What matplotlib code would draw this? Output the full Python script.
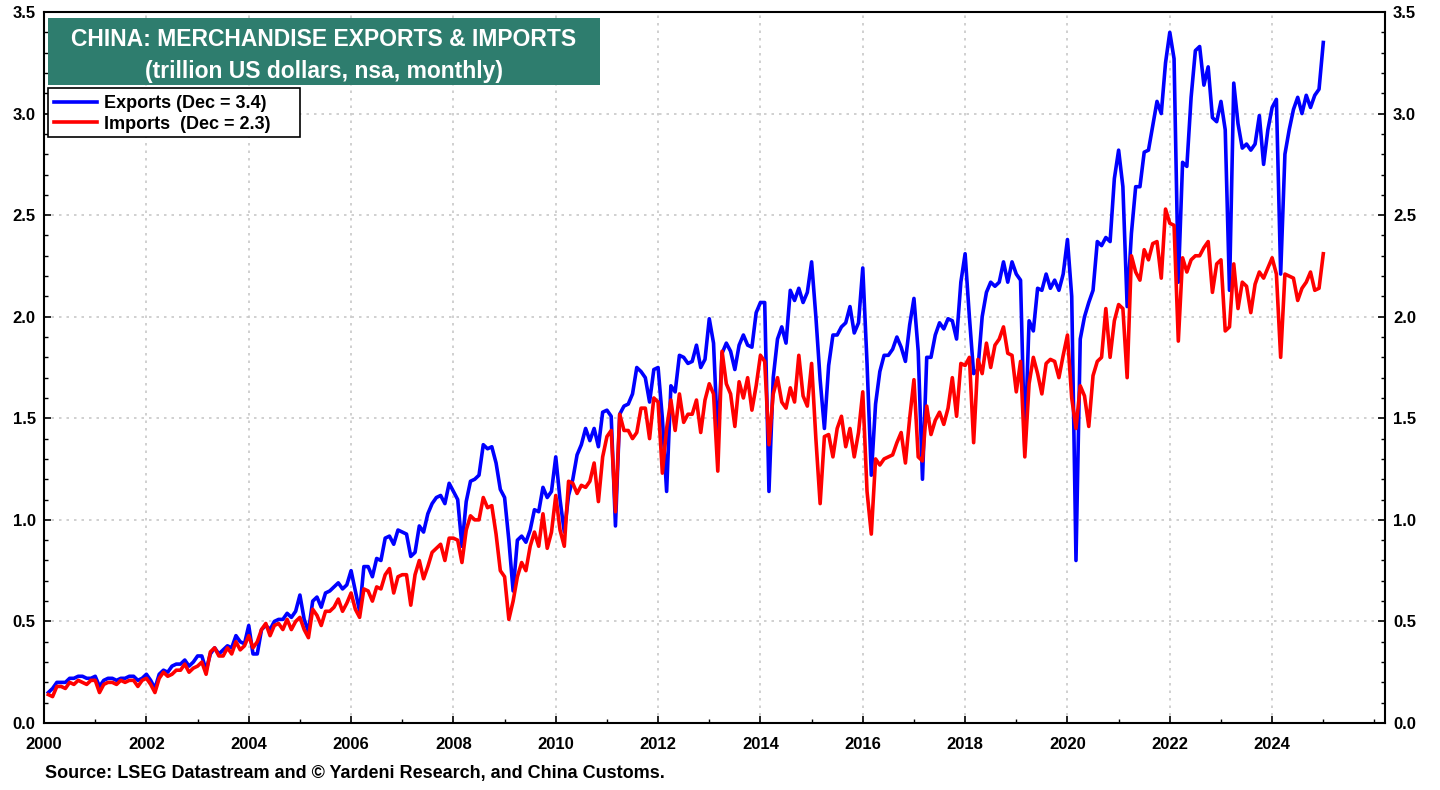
import numpy as np
import matplotlib
matplotlib.use('Agg')
import matplotlib.pyplot as plt
from matplotlib.ticker import MultipleLocator, FixedLocator, FormatStrFormatter
from matplotlib.patches import Rectangle

plt.rcParams['font.family'] = ['Liberation Sans', 'DejaVu Sans']
plt.rcParams['font.weight'] = 'bold'

# monthly, Jan 2000 .. Dec 2024 (trillion US dollars)
exports = [
    0.15, 0.17, 0.20, 0.20, 0.20, 0.22, 0.22, 0.23, 0.23, 0.22, 0.22, 0.23,  # 2000
    0.18, 0.21, 0.22, 0.22, 0.21, 0.22, 0.22, 0.23, 0.23, 0.21, 0.22, 0.24,  # 2001
    0.21, 0.17, 0.24, 0.26, 0.25, 0.28, 0.29, 0.29, 0.31, 0.28, 0.30, 0.33,  # 2002
    0.33, 0.26, 0.34, 0.37, 0.34, 0.36, 0.38, 0.37, 0.43, 0.40, 0.39, 0.48,  # 2003
    0.34, 0.34, 0.46, 0.48, 0.46, 0.50, 0.51, 0.51, 0.54, 0.52, 0.55, 0.63,  # 2004
    0.51, 0.45, 0.60, 0.62, 0.57, 0.64, 0.65, 0.67, 0.69, 0.66, 0.68, 0.75,  # 2005
    0.65, 0.55, 0.77, 0.77, 0.72, 0.81, 0.80, 0.91, 0.92, 0.88, 0.95, 0.94,  # 2006
    0.93, 0.82, 0.84, 0.97, 0.94, 1.03, 1.08, 1.11, 1.12, 1.08, 1.18, 1.14,  # 2007
    1.10, 0.87, 1.09, 1.19, 1.20, 1.22, 1.37, 1.35, 1.36, 1.28, 1.15, 1.11,  # 2008
    0.90, 0.65, 0.90, 0.92, 0.89, 0.95, 1.05, 1.04, 1.16, 1.11, 1.14, 1.31,  # 2009
    1.10, 0.94, 1.12, 1.20, 1.32, 1.37, 1.45, 1.39, 1.45, 1.36, 1.53, 1.54,  # 2010
    1.51, 0.97, 1.52, 1.56, 1.57, 1.62, 1.75, 1.73, 1.70, 1.58, 1.74, 1.75,  # 2011
    1.50, 1.14, 1.66, 1.63, 1.81, 1.80, 1.77, 1.78, 1.86, 1.75, 1.79, 1.99,  # 2012
    1.87, 1.39, 1.82, 1.87, 1.83, 1.74, 1.86, 1.91, 1.86, 1.85, 2.02, 2.07,  # 2013
    2.07, 1.14, 1.70, 1.89, 1.95, 1.87, 2.13, 2.08, 2.14, 2.07, 2.12, 2.27,  # 2014
    2.00, 1.69, 1.45, 1.76, 1.91, 1.91, 1.95, 1.97, 2.05, 1.92, 1.97, 2.24,  # 2015
    1.77, 1.22, 1.57, 1.73, 1.81, 1.81, 1.84, 1.90, 1.85, 1.78, 1.96, 2.09,  # 2016
    1.83, 1.20, 1.80, 1.80, 1.91, 1.97, 1.94, 1.99, 1.98, 1.89, 2.17, 2.31,  # 2017
    2.00, 1.72, 1.74, 2.00, 2.12, 2.17, 2.15, 2.17, 2.27, 2.17, 2.27, 2.21,  # 2018
    2.18, 1.35, 1.98, 1.93, 2.14, 2.13, 2.21, 2.14, 2.18, 2.13, 2.21, 2.38,  # 2019
    2.10, 0.80, 1.89, 2.00, 2.07, 2.13, 2.37, 2.35, 2.39, 2.37, 2.68, 2.82,  # 2020
    2.64, 2.05, 2.41, 2.64, 2.64, 2.81, 2.82, 2.94, 3.06, 3.00, 3.25, 3.40,  # 2021
    3.27, 2.17, 2.76, 2.74, 3.08, 3.31, 3.33, 3.14, 3.23, 2.98, 2.96, 3.06,  # 2022
    2.92, 2.13, 3.15, 2.95, 2.83, 2.85, 2.82, 2.85, 2.99, 2.75, 2.92, 3.03,  # 2023
    3.07, 2.21, 2.80, 2.92, 3.02, 3.08, 3.00, 3.09, 3.03, 3.09, 3.12, 3.35,  # 2024
]
imports = [
    0.14, 0.13, 0.18, 0.18, 0.17, 0.20, 0.19, 0.21, 0.20, 0.19, 0.21, 0.21,  # 2000
    0.15, 0.19, 0.20, 0.20, 0.19, 0.21, 0.20, 0.21, 0.21, 0.18, 0.21, 0.22,  # 2001
    0.19, 0.15, 0.22, 0.25, 0.23, 0.24, 0.26, 0.26, 0.29, 0.25, 0.27, 0.28,  # 2002
    0.30, 0.24, 0.35, 0.37, 0.33, 0.33, 0.37, 0.34, 0.40, 0.36, 0.38, 0.43,  # 2003
    0.37, 0.40, 0.46, 0.49, 0.43, 0.48, 0.49, 0.46, 0.51, 0.46, 0.50, 0.52,  # 2004
    0.46, 0.42, 0.56, 0.53, 0.48, 0.55, 0.55, 0.57, 0.61, 0.55, 0.59, 0.64,  # 2005
    0.56, 0.52, 0.66, 0.65, 0.60, 0.67, 0.66, 0.73, 0.76, 0.64, 0.72, 0.73,  # 2006
    0.73, 0.58, 0.73, 0.80, 0.71, 0.77, 0.84, 0.86, 0.88, 0.80, 0.91, 0.91,  # 2007
    0.90, 0.79, 0.95, 1.02, 1.00, 1.00, 1.11, 1.06, 1.07, 0.93, 0.75, 0.72,  # 2008
    0.51, 0.60, 0.72, 0.79, 0.75, 0.87, 0.94, 0.87, 1.03, 0.86, 0.94, 1.12,  # 2009
    0.95, 0.87, 1.19, 1.18, 1.13, 1.17, 1.16, 1.19, 1.28, 1.09, 1.31, 1.41,  # 2010
    1.44, 1.04, 1.52, 1.44, 1.44, 1.40, 1.43, 1.55, 1.55, 1.40, 1.60, 1.58,  # 2011
    1.23, 1.45, 1.59, 1.44, 1.62, 1.48, 1.52, 1.52, 1.59, 1.43, 1.59, 1.67,  # 2012
    1.62, 1.24, 1.83, 1.67, 1.62, 1.46, 1.68, 1.60, 1.70, 1.54, 1.66, 1.81,  # 2013
    1.78, 1.37, 1.62, 1.70, 1.58, 1.55, 1.65, 1.58, 1.81, 1.61, 1.56, 1.77,  # 2014
    1.40, 1.08, 1.41, 1.42, 1.31, 1.45, 1.51, 1.36, 1.45, 1.31, 1.43, 1.63,  # 2015
    1.14, 0.93, 1.30, 1.27, 1.30, 1.31, 1.32, 1.38, 1.43, 1.28, 1.50, 1.69,  # 2016
    1.31, 1.29, 1.56, 1.42, 1.49, 1.53, 1.47, 1.55, 1.70, 1.51, 1.77, 1.76,  # 2017
    1.80, 1.38, 1.79, 1.72, 1.87, 1.75, 1.86, 1.89, 1.95, 1.82, 1.81, 1.63,  # 2018
    1.78, 1.31, 1.67, 1.80, 1.72, 1.62, 1.77, 1.79, 1.78, 1.70, 1.81, 1.91,  # 2019
    1.60, 1.45, 1.66, 1.61, 1.46, 1.71, 1.78, 1.80, 2.04, 1.80, 1.98, 2.06,  # 2020
    2.04, 1.70, 2.30, 2.22, 2.18, 2.33, 2.28, 2.36, 2.37, 2.19, 2.53, 2.46,  # 2021
    2.45, 1.88, 2.29, 2.22, 2.28, 2.30, 2.30, 2.34, 2.37, 2.12, 2.26, 2.28,  # 2022
    1.93, 1.95, 2.26, 2.04, 2.17, 2.15, 2.02, 2.16, 2.22, 2.19, 2.24, 2.29,  # 2023
    2.21, 1.80, 2.21, 2.20, 2.19, 2.08, 2.14, 2.17, 2.22, 2.13, 2.14, 2.31,  # 2024
]

title = 'CHINA: MERCHANDISE EXPORTS & IMPORTS'
subtitle = '(trillion US dollars, nsa, monthly)'
exp_label = 'Exports (Dec = 3.4)'
imp_label = 'Imports  (Dec = 2.3)'
source = 'Source: LSEG Datastream and \u00a9 Yardeni Research, and China Customs.'
year_ticks = list(range(2000, 2025, 2))

# decimal year at month end
t = 2000 + np.arange(1, len(exports) + 1) / 12.0

fig = plt.figure(figsize=(14.4, 7.9), dpi=100)
ax = fig.add_axes([0.0306, 0.0848, 0.931, 0.900])

ax.plot(t, exports, color='#0000ff', lw=2.6, label=exp_label, zorder=3)
ax.plot(t, imports, color='#ff0000', lw=2.6, label=imp_label, zorder=3)

ax.set_xlim(2000, 2026.2)
ax.set_ylim(0, 3.5)
ax.xaxis.set_major_locator(FixedLocator(year_ticks))
ax.xaxis.set_minor_locator(FixedLocator(range(2001, 2027)))
ax.xaxis.set_major_formatter(FormatStrFormatter('%d'))
ax.yaxis.set_major_locator(MultipleLocator(0.5))
ax.yaxis.set_minor_locator(MultipleLocator(0.1))
ax.yaxis.set_major_formatter(FormatStrFormatter('%.1f'))
ax.tick_params(axis='both', which='both', direction='in', labelsize=12,
               right=True, labelright=True)
ax.tick_params(which='major', length=5, width=1.2)
ax.tick_params(which='minor', length=3, width=1)
ax.tick_params(axis='x', pad=10)
ax.tick_params(axis='y', pad=6)
for s in ax.spines.values():
    s.set_linewidth(1.5)

ax.grid(True, which='major', color='#c8c8c8', linestyle=(0, (1.5, 3)), lw=1.2)

# title box
ax.add_patch(Rectangle((0.003, 0.897), 0.4116, 0.095, transform=ax.transAxes,
                       facecolor='#2e7d6e', edgecolor='none', zorder=5))
ax.text(0.2088, 0.962, title, transform=ax.transAxes, ha='center', va='center',
        color='white', fontsize=16.5, fontweight='bold', zorder=6)
ax.text(0.2088, 0.917, subtitle, transform=ax.transAxes, ha='center', va='center',
        color='white', fontsize=16.5, fontweight='bold', zorder=6)

# legend with a wider hand-drawn frame
ax.add_patch(Rectangle((0.003, 0.824), 0.188, 0.069, transform=ax.transAxes,
                       facecolor='white', edgecolor='black', lw=1.2, zorder=5))
leg = ax.legend(loc='upper left', bbox_to_anchor=(0.003, 0.891), fontsize=13,
                frameon=False, borderaxespad=0, handlelength=2.4,
                handletextpad=0.4, borderpad=0.3, labelspacing=0.2)
leg.set_zorder(6)
for txt in leg.get_texts():
    txt.set_fontweight('bold')

fig.text(0.031, 0.010, source, fontsize=13, fontweight='bold', ha='left', va='bottom')

fig.savefig('out.png', dpi=100)
